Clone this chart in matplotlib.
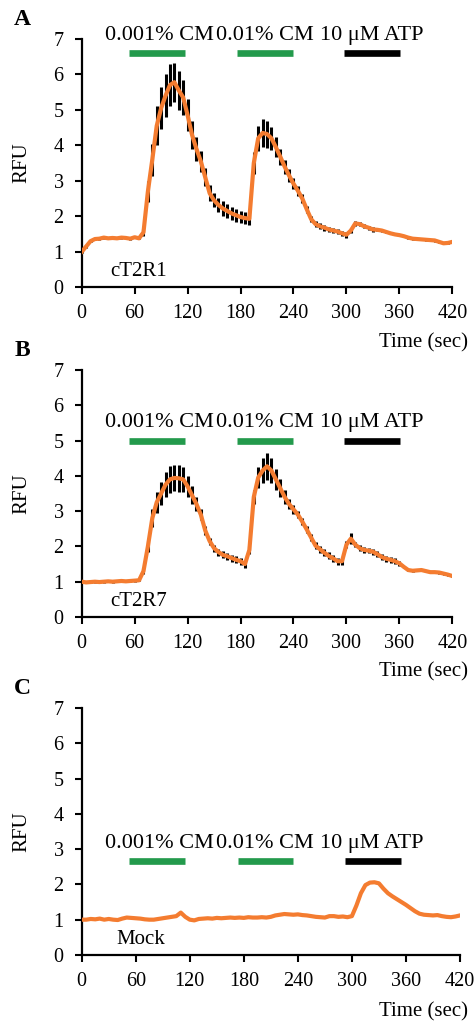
import numpy as np
import matplotlib
matplotlib.use('Agg')
import matplotlib.pyplot as plt

plt.rcParams['font.family'] = ['Liberation Serif', 'DejaVu Serif']

# time axis (sec), one reading every 5 s
t = np.arange(0, 421, 5)

# cT2R1 mean RFU and SEM
a_mean = [1.00, 1.15, 1.30, 1.36, 1.37, 1.40, 1.38, 1.39, 1.38, 1.40,
          1.39, 1.37, 1.41, 1.38, 1.55, 2.70, 3.60, 4.55, 5.05, 5.40,
          5.70, 5.78, 5.55, 5.35, 4.85, 4.30, 3.90, 3.55, 3.10, 2.65,
          2.45, 2.32, 2.22, 2.15, 2.08, 2.03, 1.98, 1.95, 1.93, 3.50,
          4.20, 4.35, 4.32, 4.20, 3.95, 3.68, 3.40, 3.15, 2.92, 2.72,
          2.50, 2.20, 1.92, 1.78, 1.72, 1.68, 1.63, 1.60, 1.57, 1.52,
          1.48, 1.60, 1.80, 1.78, 1.72, 1.68, 1.63, 1.62, 1.60, 1.56,
          1.52, 1.49, 1.47, 1.44, 1.40, 1.37, 1.36, 1.35, 1.34, 1.33,
          1.32, 1.28, 1.24, 1.25, 1.28]
a_sem = [0.03, 0.03, 0.03, 0.03, 0.03, 0.03, 0.03, 0.03, 0.03, 0.03,
         0.03, 0.03, 0.03, 0.03, 0.10, 0.30, 0.45, 0.55, 0.60, 0.60,
         0.60, 0.55, 0.55, 0.50, 0.45, 0.40, 0.35, 0.30, 0.25, 0.22,
         0.20, 0.20, 0.20, 0.20, 0.18, 0.18, 0.18, 0.18, 0.18, 0.30,
         0.36, 0.40, 0.38, 0.33, 0.28, 0.22, 0.20, 0.18, 0.16, 0.14,
         0.12, 0.10, 0.08, 0.08, 0.08, 0.08, 0.08, 0.08, 0.08, 0.08,
         0.08, 0.06, 0.06, 0.06, 0.06, 0.06, 0.06, 0.03, 0.03, 0.03,
         0.03, 0.03, 0.03, 0.03, 0.03, 0.03, 0.03, 0.03, 0.03, 0.03,
         0.03, 0.03, 0.03, 0.03, 0.03]

# cT2R7 mean RFU and SEM
b_mean = [1.00, 0.98, 0.99, 1.00, 0.99, 1.00, 1.01, 1.00, 1.01, 1.02,
          1.01, 1.02, 1.03, 1.04, 1.30, 2.00, 2.80, 3.25, 3.50, 3.75,
          3.90, 3.94, 3.93, 3.90, 3.70, 3.45, 3.20, 2.90, 2.45, 2.15,
          1.95, 1.84, 1.76, 1.72, 1.67, 1.62, 1.58, 1.50, 1.90, 3.40,
          3.95, 4.15, 4.27, 4.15, 3.90, 3.65, 3.40, 3.20, 3.05, 2.90,
          2.70, 2.48, 2.25, 2.02, 1.92, 1.82, 1.73, 1.66, 1.58, 1.58,
          2.05, 2.22, 2.05, 1.95, 1.90, 1.88, 1.85, 1.78, 1.70, 1.65,
          1.62, 1.58, 1.52, 1.42, 1.33, 1.31, 1.32, 1.33, 1.30, 1.27,
          1.27, 1.26, 1.23, 1.20, 1.16]
b_sem = [0.03, 0.03, 0.03, 0.03, 0.03, 0.03, 0.03, 0.03, 0.03, 0.03,
         0.03, 0.03, 0.03, 0.03, 0.08, 0.15, 0.25, 0.30, 0.33, 0.35,
         0.38, 0.38, 0.38, 0.35, 0.30, 0.25, 0.20, 0.15, 0.12, 0.10,
         0.10, 0.10, 0.10, 0.10, 0.10, 0.10, 0.10, 0.10, 0.12, 0.20,
         0.30, 0.35, 0.38, 0.35, 0.30, 0.25, 0.20, 0.15, 0.12, 0.10,
         0.10, 0.10, 0.10, 0.10, 0.10, 0.10, 0.10, 0.10, 0.10, 0.10,
         0.10, 0.15, 0.08, 0.08, 0.08, 0.08, 0.08, 0.08, 0.08, 0.08,
         0.08, 0.08, 0.08, 0.03, 0.03, 0.03, 0.03, 0.03, 0.03, 0.03,
         0.03, 0.03, 0.03, 0.03, 0.03]

# Mock mean RFU
c_mean = [1.00, 1.00, 1.02, 1.01, 1.03, 1.00, 1.02, 1.00, 0.99, 1.03,
          1.06, 1.05, 1.04, 1.03, 1.01, 1.00, 1.00, 1.02, 1.04, 1.06,
          1.08, 1.10, 1.20, 1.08, 1.00, 0.98, 1.02, 1.03, 1.04, 1.03,
          1.05, 1.04, 1.05, 1.06, 1.05, 1.06, 1.05, 1.07, 1.06, 1.06,
          1.07, 1.06, 1.08, 1.12, 1.14, 1.16, 1.15, 1.14, 1.15, 1.13,
          1.12, 1.10, 1.08, 1.07, 1.06, 1.10, 1.10, 1.08, 1.09, 1.07,
          1.10, 1.40, 1.75, 1.98, 2.05, 2.06, 2.03, 1.88, 1.75, 1.66,
          1.58, 1.50, 1.42, 1.33, 1.24, 1.17, 1.14, 1.13, 1.12, 1.13,
          1.10, 1.08, 1.07, 1.09, 1.12]

stim_labels = ['0.001% CM', '0.01% CM', '10 μM ATP']
stim_colors = ['#239a4c', '#239a4c', 'black']
# bar spans (sec) as drawn in each panel
ab_spans = [(54, 117), (176, 240), (297, 361)]
c_spans = [(53, 115), (173, 235), (292, 354)]
ab_text_x = [87.6, 207.8, 328.4]
c_text_x = [85.9, 203.7, 322.1]

orange = '#f47c30'

fig = plt.figure(figsize=(4.77, 10.22), dpi=100)

panels = [
    dict(pos=[0.1713, 0.7189, 0.777, 0.2430], mean=a_mean, sem=a_sem, name='cT2R1',
         letter='A', spans=ab_spans, tx=ab_text_x, bar_y=6.6, text_y=7.1, name_x=32),
    dict(pos=[0.1713, 0.3963, 0.777, 0.2417], mean=b_mean, sem=b_sem, name='cT2R7',
         letter='B', spans=ab_spans, tx=ab_text_x, bar_y=4.98, text_y=5.5, name_x=32),
    dict(pos=[0.1713, 0.0656, 0.793, 0.2417], mean=c_mean, sem=None, name='Mock',
         letter='C', spans=c_spans, tx=c_text_x, bar_y=2.66, text_y=3.17, name_x=38),
]

for p in panels:
    ax = fig.add_axes(p['pos'])
    m = np.array(p['mean'])
    if p['sem'] is not None:
        s = np.array(p['sem'])
        ax.vlines(t, m - s, m + s, color='black', lw=2.2, zorder=2)
    ax.plot(t, m, color=orange, lw=3.0, zorder=3, solid_joinstyle='round')

    for (x0, x1), col in zip(p['spans'], stim_colors):
        ax.plot([x0, x1], [p['bar_y'], p['bar_y']], color=col, lw=4.8,
                solid_capstyle='butt', clip_on=False)
    for lab, x in zip(stim_labels, p['tx']):
        ax.text(x, p['text_y'], lab, ha='center', va='center', fontsize=16,
                clip_on=False)

    ax.text(p['name_x'], 0.44, p['name'], ha='left', va='center', fontsize=15)

    ax.set_xlim(0, 420)
    ax.set_ylim(0, 7)
    ax.set_xticks(range(0, 421, 60))
    ax.set_yticks(range(0, 8))
    for side in ['top', 'right']:
        ax.spines[side].set_visible(False)
    for side in ['left', 'bottom']:
        ax.spines[side].set_linewidth(1.6)
    ax.tick_params(axis='both', direction='out', length=5, width=1.5,
                   labelsize=14.5)
    ax.tick_params(axis='x', pad=7)
    ax.tick_params(axis='y', pad=8)
    ax.set_ylabel('RFU', fontsize=15)
    ax.yaxis.set_label_coords((31 / 477 - p['pos'][0]) / p['pos'][2], 0.5)
    ty = -0.224 if p['letter'] != 'C' else -0.232
    ax.text((468 / 477 - p['pos'][0]) / p['pos'][2], ty, 'Time (sec)',
            transform=ax.transAxes, ha='right', va='center', fontsize=15)

    # panel letter
    top_px = (1 - p['pos'][1] - p['pos'][3]) * 1022
    fig.text(22 / 477, 1 - (top_px - 19) / 1022, p['letter'], fontsize=17,
             fontweight='bold', ha='center', va='center')

fig.savefig('out.png', dpi=100)
